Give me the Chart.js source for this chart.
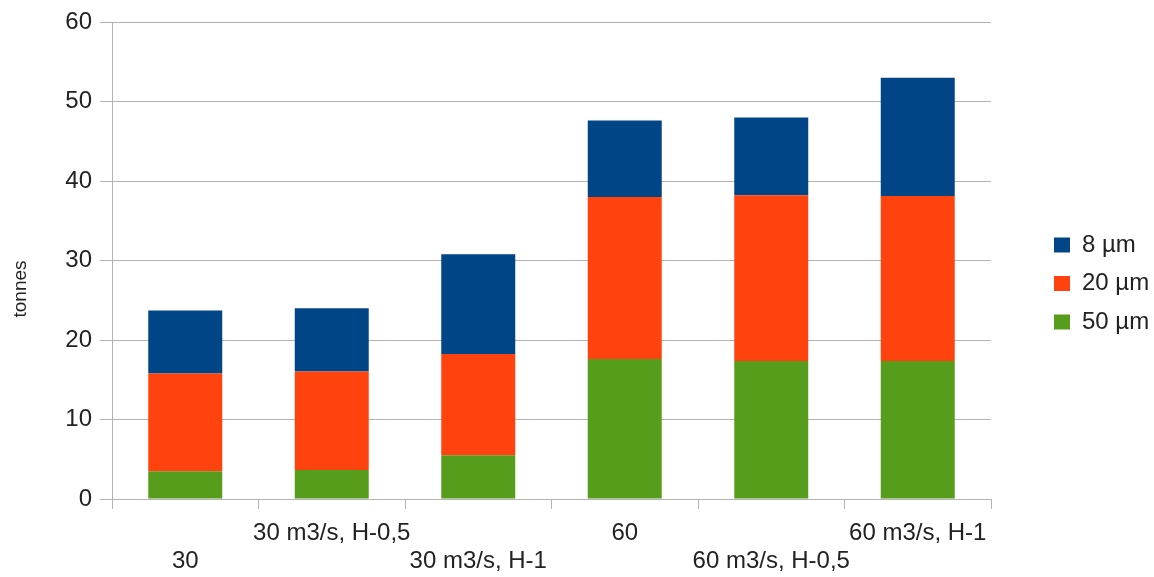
<!DOCTYPE html>
<html>
<head>
<meta charset="utf-8">
<script src="https://cdn.jsdelivr.net/npm/chart.js@4"></script>
<style>
  html, body { margin: 0; padding: 0; background: #fff; }
  #wrap { width: 1154px; height: 577px; }
</style>
</head>
<body>
<div id="wrap"><canvas id="chart"></canvas></div>
<script>
const categories = ['30', '30 m3/s, H-0,5', '30 m3/s, H-1', '60', '60 m3/s, H-0,5', '60 m3/s, H-1'];
const fine8 = [7.9, 7.95, 12.55, 9.6, 9.8, 14.9];
const mid20 = [12.3, 12.4, 12.75, 20.4, 20.85, 20.75];
const coarse50 = [3.5, 3.65, 5.5, 17.6, 17.35, 17.35];
const yTicks = [0, 10, 20, 30, 40, 50, 60];
const yTitle = 'tonnes';

const gridColor = '#b3b3b3';
const textColor = '#222';
const font = { family: 'Liberation Sans', size: 24 };

// legend sits in a wider box than Chart.js would give it, like the original
const legendGap = {
  id: 'legendGap',
  beforeLayout(chart) {
    const lg = chart.legend;
    if (!lg || lg._patched) return;
    const fit = lg.fit;
    lg.fit = function () {
      fit.call(this);
      this.width = 163;
    };
    lg._patched = true;
  },
  afterLayout(chart) {
    const lg = chart.legend;
    if (!lg) return;
    lg.left = 1039.5;
    lg.width = lg.right - lg.left;
    lg.top -= 16;
    lg.bottom -= 16;
  }
};

// axis title centred on the whole page height
const sideTitle = {
  id: 'sideTitle',
  afterDraw(chart) {
    const ctx = chart.ctx;
    ctx.save();
    ctx.translate(20.5, 289);
    ctx.rotate(-Math.PI / 2);
    ctx.font = '19px "Liberation Sans"';
    ctx.fillStyle = textColor;
    ctx.textAlign = 'center';
    ctx.textBaseline = 'middle';
    ctx.fillText(yTitle, 0, 0);
    ctx.restore();
  }
};

new Chart(document.getElementById('chart'), {
  type: 'bar',
  data: {
    labels: categories,
    datasets: [
      { label: '50 µm', data: coarse50, backgroundColor: '#579d1c' },
      { label: '20 µm', data: mid20, backgroundColor: '#ff420e' },
      { label: '8 µm', data: fine8, backgroundColor: '#004586' }
    ]
  },
  plugins: [legendGap, sideTitle],
  options: {
    responsive: true,
    maintainAspectRatio: false,
    animation: false,
    layout: { padding: { top: 22, right: 0, left: 0, bottom: 0 } },
    datasets: { bar: { categoryPercentage: 1, barPercentage: 0.505 } },
    plugins: {
      tooltip: { enabled: false },
      legend: {
        position: 'right',
        reverse: true,
        labels: {
          font,
          color: textColor,
          boxWidth: 16,
          boxHeight: 15,
          padding: 14.5
        }
      }
    },
    scales: {
      x: {
        stacked: true,
        afterFit: axis => {
          axis.height = 78;
          axis.paddingLeft = 0;
          axis.paddingRight = 0;
        },
        grid: {
          offset: true,
          color: ctx => (ctx.index === categories.length ? gridColor : 'transparent'),
          tickColor: gridColor,
          tickLength: 10
        },
        border: { color: gridColor },
        ticks: {
          font: { ...font, lineHeight: 1.2 },
          color: textColor,
          maxRotation: 0,
          autoSkip: false,
          padding: 9.6,
          callback: (v, i) => (i % 2 === 0 ? ['', categories[i]] : [categories[i]])
        }
      },
      y: {
        stacked: true,
        min: 0,
        max: 60,
        afterBuildTicks: axis => { axis.ticks = yTicks.map(v => ({ value: v })); },
        afterFit: axis => {
          axis.width = 112;
          axis.paddingTop = 0;
          axis.paddingBottom = 0;
        },
        grid: { color: gridColor, tickColor: gridColor, tickLength: 12 },
        border: { color: gridColor },
        ticks: { font, color: textColor, padding: 8 }
      }
    }
  }
});
</script>
</body>
</html>
